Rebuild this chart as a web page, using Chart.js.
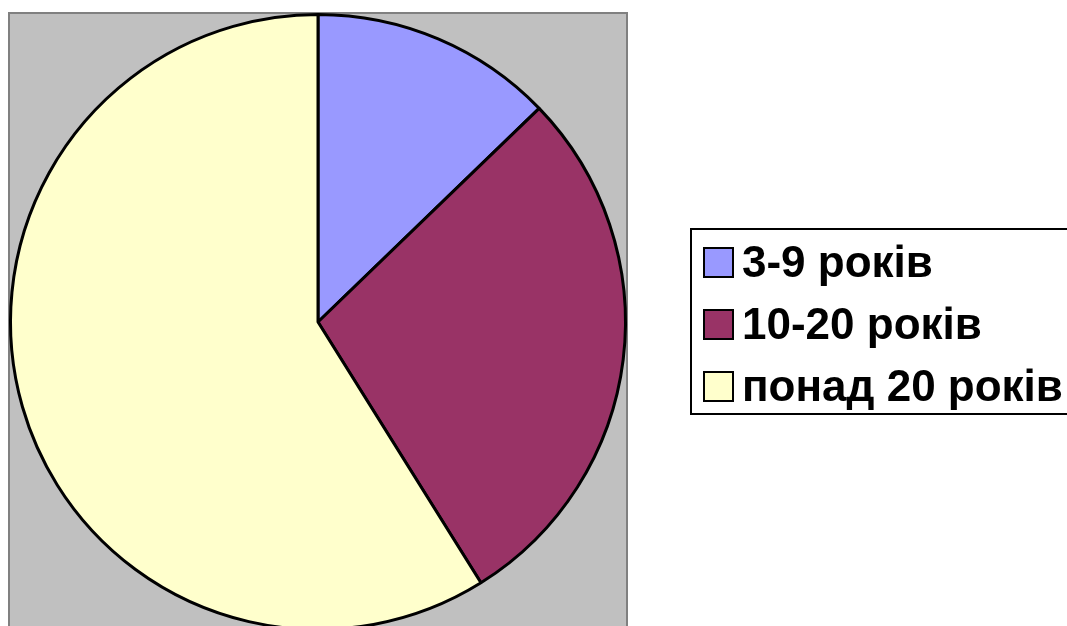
<!DOCTYPE html>
<html>
<head>
<meta charset="utf-8">
<script src="https://cdn.jsdelivr.net/npm/chart.js@4/dist/chart.umd.min.js"></script>
<style>
html, body { margin: 0; padding: 0; background: #ffffff; overflow: hidden; width: 1067px; height: 626px; }
#wrap { position: absolute; left: 0; top: 0; width: 1067px; height: 660px; }
</style>
</head>
<body>
<div id="wrap"><canvas id="c" width="1067" height="660"></canvas></div>
<script>
const categories = ['3-9 років', '10-20 років', 'понад 20 років'];
const values = [23, 51, 106];
const colors = ['#9999FF', '#993366', '#FFFFCC'];

const plotAreaBg = {
  id: 'plotAreaBg',
  beforeDraw(chart) {
    const ctx = chart.ctx;
    ctx.save();
    ctx.fillStyle = '#C0C0C0';
    ctx.fillRect(9, 13, 618, 700);
    ctx.strokeStyle = '#808080';
    ctx.lineWidth = 2;
    ctx.strokeRect(9, 13, 618, 700);
    ctx.restore();
  }
};

const boxLegend = {
  id: 'boxLegend',
  afterDraw(chart) {
    const ctx = chart.ctx;
    const labels = chart.data.labels;
    const ds = chart.data.datasets[0];
    ctx.save();
    ctx.strokeStyle = '#000000';
    ctx.lineWidth = 2;
    ctx.fillStyle = '#ffffff';
    ctx.fillRect(691, 229, 420, 185);
    ctx.strokeRect(691, 229, 420, 185);
    ctx.font = 'bold 44px "Liberation Sans", Arial, sans-serif';
    ctx.textBaseline = 'middle';
    labels.forEach((lab, i) => {
      const cy = 262 + i * 62;
      ctx.fillStyle = ds.backgroundColor[i];
      ctx.fillRect(704, cy - 14, 29, 29);
      ctx.strokeStyle = '#000000';
      ctx.lineWidth = 2;
      ctx.strokeRect(704, cy - 14, 29, 29);
      ctx.fillStyle = '#000000';
      ctx.fillText(lab, 742, cy + 3);
    });
    ctx.restore();
  }
};

new Chart(document.getElementById('c'), {
  type: 'pie',
  data: {
    labels: categories,
    datasets: [{
      data: values,
      backgroundColor: colors,
      borderColor: '#000000',
      borderWidth: 3,
      hoverOffset: 0
    }]
  },
  options: {
    responsive: false,
    devicePixelRatio: 1,
    animation: false,
    layout: { padding: { left: 9, top: 13, right: 440, bottom: 29 } },
    plugins: {
      legend: { display: false },
      tooltip: { enabled: false }
    }
  },
  plugins: [plotAreaBg, boxLegend]
});
</script>
</body>
</html>
